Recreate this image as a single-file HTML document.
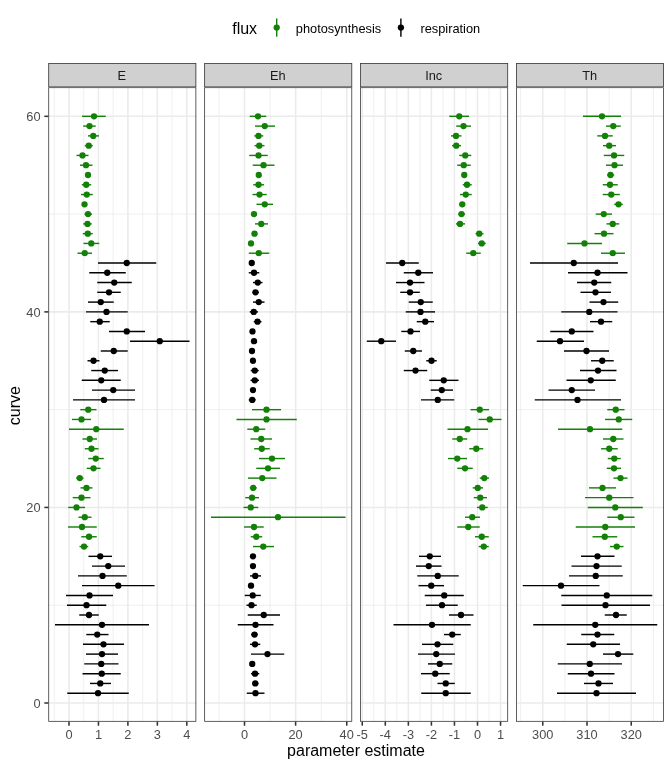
<!DOCTYPE html>
<html><head><meta charset="utf-8"><title>parameter estimates</title>
<style>html,body{margin:0;padding:0;background:#fff;}body{width:672px;height:768px;overflow:hidden;font-family:"Liberation Sans",sans-serif;}</style>
</head><body>
<svg width="672" height="768" viewBox="0 0 672 768" style="display:block;will-change:transform;transform:translateZ(0)" font-family="'Liberation Sans', sans-serif">
<g>
<line x1="48.33" x2="196.25" y1="605.22" y2="605.22" stroke="#EBEBEB" stroke-width="0.78"/>
<line x1="48.33" x2="196.25" y1="409.66" y2="409.66" stroke="#EBEBEB" stroke-width="0.78"/>
<line x1="48.33" x2="196.25" y1="214.10" y2="214.10" stroke="#EBEBEB" stroke-width="0.78"/>
<line y1="87.3" y2="721.7" x1="54.27" x2="54.27" stroke="#EBEBEB" stroke-width="0.78"/>
<line y1="87.3" y2="721.7" x1="83.72" x2="83.72" stroke="#EBEBEB" stroke-width="0.78"/>
<line y1="87.3" y2="721.7" x1="113.17" x2="113.17" stroke="#EBEBEB" stroke-width="0.78"/>
<line y1="87.3" y2="721.7" x1="142.62" x2="142.62" stroke="#EBEBEB" stroke-width="0.78"/>
<line y1="87.3" y2="721.7" x1="172.07" x2="172.07" stroke="#EBEBEB" stroke-width="0.78"/>
<line x1="48.33" x2="196.25" y1="703.00" y2="703.00" stroke="#EBEBEB" stroke-width="1.55"/>
<line x1="48.33" x2="196.25" y1="507.44" y2="507.44" stroke="#EBEBEB" stroke-width="1.55"/>
<line x1="48.33" x2="196.25" y1="311.88" y2="311.88" stroke="#EBEBEB" stroke-width="1.55"/>
<line x1="48.33" x2="196.25" y1="116.32" y2="116.32" stroke="#EBEBEB" stroke-width="1.55"/>
<line y1="87.3" y2="721.7" x1="69.00" x2="69.00" stroke="#EBEBEB" stroke-width="1.55"/>
<line y1="87.3" y2="721.7" x1="98.45" x2="98.45" stroke="#EBEBEB" stroke-width="1.55"/>
<line y1="87.3" y2="721.7" x1="127.90" x2="127.90" stroke="#EBEBEB" stroke-width="1.55"/>
<line y1="87.3" y2="721.7" x1="157.35" x2="157.35" stroke="#EBEBEB" stroke-width="1.55"/>
<line y1="87.3" y2="721.7" x1="186.80" x2="186.80" stroke="#EBEBEB" stroke-width="1.55"/>
<line x1="67.25" x2="128.75" y1="693.22" y2="693.22" stroke="#000000" stroke-width="1.42"/>
<circle cx="98.00" cy="693.22" r="3.15" fill="#000000"/>
<line x1="90.00" x2="111.00" y1="683.44" y2="683.44" stroke="#000000" stroke-width="1.42"/>
<circle cx="100.25" cy="683.44" r="3.15" fill="#000000"/>
<line x1="82.50" x2="120.75" y1="673.67" y2="673.67" stroke="#000000" stroke-width="1.42"/>
<circle cx="101.75" cy="673.67" r="3.15" fill="#000000"/>
<line x1="84.25" x2="118.50" y1="663.89" y2="663.89" stroke="#000000" stroke-width="1.42"/>
<circle cx="101.25" cy="663.89" r="3.15" fill="#000000"/>
<line x1="86.00" x2="118.00" y1="654.11" y2="654.11" stroke="#000000" stroke-width="1.42"/>
<circle cx="102.00" cy="654.11" r="3.15" fill="#000000"/>
<line x1="83.00" x2="124.00" y1="644.33" y2="644.33" stroke="#000000" stroke-width="1.42"/>
<circle cx="103.50" cy="644.33" r="3.15" fill="#000000"/>
<line x1="86.25" x2="108.50" y1="634.55" y2="634.55" stroke="#000000" stroke-width="1.42"/>
<circle cx="97.25" cy="634.55" r="3.15" fill="#000000"/>
<line x1="55.00" x2="149.00" y1="624.78" y2="624.78" stroke="#000000" stroke-width="1.42"/>
<circle cx="102.00" cy="624.78" r="3.15" fill="#000000"/>
<line x1="79.25" x2="98.75" y1="615.00" y2="615.00" stroke="#000000" stroke-width="1.42"/>
<circle cx="89.00" cy="615.00" r="3.15" fill="#000000"/>
<line x1="67.00" x2="106.25" y1="605.22" y2="605.22" stroke="#000000" stroke-width="1.42"/>
<circle cx="86.50" cy="605.22" r="3.15" fill="#000000"/>
<line x1="66.00" x2="113.00" y1="595.44" y2="595.44" stroke="#000000" stroke-width="1.42"/>
<circle cx="89.50" cy="595.44" r="3.15" fill="#000000"/>
<line x1="82.00" x2="154.50" y1="585.66" y2="585.66" stroke="#000000" stroke-width="1.42"/>
<circle cx="118.25" cy="585.66" r="3.15" fill="#000000"/>
<line x1="78.00" x2="126.75" y1="575.89" y2="575.89" stroke="#000000" stroke-width="1.42"/>
<circle cx="102.50" cy="575.89" r="3.15" fill="#000000"/>
<line x1="92.00" x2="125.00" y1="566.11" y2="566.11" stroke="#000000" stroke-width="1.42"/>
<circle cx="108.25" cy="566.11" r="3.15" fill="#000000"/>
<line x1="88.50" x2="112.00" y1="556.33" y2="556.33" stroke="#000000" stroke-width="1.42"/>
<circle cx="100.25" cy="556.33" r="3.15" fill="#000000"/>
<line x1="79.50" x2="88.25" y1="546.55" y2="546.55" stroke="#138007" stroke-width="1.42"/>
<circle cx="84.00" cy="546.55" r="3.15" fill="#138007"/>
<line x1="81.25" x2="96.75" y1="536.77" y2="536.77" stroke="#138007" stroke-width="1.42"/>
<circle cx="89.00" cy="536.77" r="3.15" fill="#138007"/>
<line x1="68.00" x2="96.75" y1="527.00" y2="527.00" stroke="#138007" stroke-width="1.42"/>
<circle cx="82.00" cy="527.00" r="3.15" fill="#138007"/>
<line x1="78.50" x2="91.50" y1="517.22" y2="517.22" stroke="#138007" stroke-width="1.42"/>
<circle cx="84.75" cy="517.22" r="3.15" fill="#138007"/>
<line x1="68.25" x2="85.00" y1="507.44" y2="507.44" stroke="#138007" stroke-width="1.42"/>
<circle cx="76.50" cy="507.44" r="3.15" fill="#138007"/>
<line x1="72.75" x2="90.50" y1="497.66" y2="497.66" stroke="#138007" stroke-width="1.42"/>
<circle cx="81.50" cy="497.66" r="3.15" fill="#138007"/>
<line x1="80.50" x2="92.50" y1="487.88" y2="487.88" stroke="#138007" stroke-width="1.42"/>
<circle cx="86.50" cy="487.88" r="3.15" fill="#138007"/>
<line x1="76.25" x2="83.50" y1="478.11" y2="478.11" stroke="#138007" stroke-width="1.42"/>
<circle cx="79.75" cy="478.11" r="3.15" fill="#138007"/>
<line x1="86.75" x2="100.50" y1="468.33" y2="468.33" stroke="#138007" stroke-width="1.42"/>
<circle cx="93.50" cy="468.33" r="3.15" fill="#138007"/>
<line x1="88.25" x2="103.75" y1="458.55" y2="458.55" stroke="#138007" stroke-width="1.42"/>
<circle cx="95.75" cy="458.55" r="3.15" fill="#138007"/>
<line x1="84.75" x2="98.50" y1="448.77" y2="448.77" stroke="#138007" stroke-width="1.42"/>
<circle cx="91.50" cy="448.77" r="3.15" fill="#138007"/>
<line x1="82.50" x2="97.00" y1="438.99" y2="438.99" stroke="#138007" stroke-width="1.42"/>
<circle cx="89.75" cy="438.99" r="3.15" fill="#138007"/>
<line x1="69.00" x2="123.75" y1="429.22" y2="429.22" stroke="#138007" stroke-width="1.42"/>
<circle cx="96.25" cy="429.22" r="3.15" fill="#138007"/>
<line x1="72.00" x2="91.00" y1="419.44" y2="419.44" stroke="#138007" stroke-width="1.42"/>
<circle cx="81.50" cy="419.44" r="3.15" fill="#138007"/>
<line x1="80.25" x2="96.50" y1="409.66" y2="409.66" stroke="#138007" stroke-width="1.42"/>
<circle cx="88.25" cy="409.66" r="3.15" fill="#138007"/>
<line x1="73.00" x2="135.00" y1="399.88" y2="399.88" stroke="#000000" stroke-width="1.42"/>
<circle cx="104.00" cy="399.88" r="3.15" fill="#000000"/>
<line x1="92.00" x2="135.00" y1="390.10" y2="390.10" stroke="#000000" stroke-width="1.42"/>
<circle cx="113.25" cy="390.10" r="3.15" fill="#000000"/>
<line x1="81.75" x2="120.75" y1="380.33" y2="380.33" stroke="#000000" stroke-width="1.42"/>
<circle cx="101.25" cy="380.33" r="3.15" fill="#000000"/>
<line x1="91.25" x2="118.00" y1="370.55" y2="370.55" stroke="#000000" stroke-width="1.42"/>
<circle cx="104.75" cy="370.55" r="3.15" fill="#000000"/>
<line x1="87.50" x2="99.50" y1="360.77" y2="360.77" stroke="#000000" stroke-width="1.42"/>
<circle cx="93.50" cy="360.77" r="3.15" fill="#000000"/>
<line x1="100.75" x2="127.75" y1="350.99" y2="350.99" stroke="#000000" stroke-width="1.42"/>
<circle cx="113.75" cy="350.99" r="3.15" fill="#000000"/>
<line x1="130.00" x2="189.50" y1="341.21" y2="341.21" stroke="#000000" stroke-width="1.42"/>
<circle cx="159.75" cy="341.21" r="3.15" fill="#000000"/>
<line x1="109.00" x2="145.00" y1="331.44" y2="331.44" stroke="#000000" stroke-width="1.42"/>
<circle cx="126.75" cy="331.44" r="3.15" fill="#000000"/>
<line x1="90.25" x2="109.75" y1="321.66" y2="321.66" stroke="#000000" stroke-width="1.42"/>
<circle cx="99.75" cy="321.66" r="3.15" fill="#000000"/>
<line x1="86.00" x2="127.75" y1="311.88" y2="311.88" stroke="#000000" stroke-width="1.42"/>
<circle cx="106.50" cy="311.88" r="3.15" fill="#000000"/>
<line x1="88.00" x2="113.75" y1="302.10" y2="302.10" stroke="#000000" stroke-width="1.42"/>
<circle cx="100.75" cy="302.10" r="3.15" fill="#000000"/>
<line x1="97.25" x2="120.75" y1="292.32" y2="292.32" stroke="#000000" stroke-width="1.42"/>
<circle cx="109.00" cy="292.32" r="3.15" fill="#000000"/>
<line x1="97.25" x2="131.75" y1="282.55" y2="282.55" stroke="#000000" stroke-width="1.42"/>
<circle cx="114.25" cy="282.55" r="3.15" fill="#000000"/>
<line x1="89.25" x2="125.75" y1="272.77" y2="272.77" stroke="#000000" stroke-width="1.42"/>
<circle cx="107.25" cy="272.77" r="3.15" fill="#000000"/>
<line x1="98.00" x2="156.25" y1="262.99" y2="262.99" stroke="#000000" stroke-width="1.42"/>
<circle cx="126.75" cy="262.99" r="3.15" fill="#000000"/>
<line x1="77.50" x2="92.00" y1="253.21" y2="253.21" stroke="#138007" stroke-width="1.42"/>
<circle cx="84.75" cy="253.21" r="3.15" fill="#138007"/>
<line x1="83.50" x2="99.25" y1="243.43" y2="243.43" stroke="#138007" stroke-width="1.42"/>
<circle cx="91.25" cy="243.43" r="3.15" fill="#138007"/>
<line x1="82.75" x2="92.75" y1="233.66" y2="233.66" stroke="#138007" stroke-width="1.42"/>
<circle cx="87.75" cy="233.66" r="3.15" fill="#138007"/>
<line x1="83.25" x2="91.75" y1="223.88" y2="223.88" stroke="#138007" stroke-width="1.42"/>
<circle cx="87.50" cy="223.88" r="3.15" fill="#138007"/>
<line x1="84.50" x2="92.00" y1="214.10" y2="214.10" stroke="#138007" stroke-width="1.42"/>
<circle cx="88.00" cy="214.10" r="3.15" fill="#138007"/>
<circle cx="84.50" cy="204.32" r="3.15" fill="#138007"/>
<line x1="81.00" x2="92.75" y1="194.54" y2="194.54" stroke="#138007" stroke-width="1.42"/>
<circle cx="86.75" cy="194.54" r="3.15" fill="#138007"/>
<line x1="81.75" x2="91.25" y1="184.77" y2="184.77" stroke="#138007" stroke-width="1.42"/>
<circle cx="86.25" cy="184.77" r="3.15" fill="#138007"/>
<line x1="85.25" x2="90.75" y1="174.99" y2="174.99" stroke="#138007" stroke-width="1.42"/>
<circle cx="88.00" cy="174.99" r="3.15" fill="#138007"/>
<line x1="80.00" x2="92.50" y1="165.21" y2="165.21" stroke="#138007" stroke-width="1.42"/>
<circle cx="86.00" cy="165.21" r="3.15" fill="#138007"/>
<line x1="76.50" x2="88.50" y1="155.43" y2="155.43" stroke="#138007" stroke-width="1.42"/>
<circle cx="82.50" cy="155.43" r="3.15" fill="#138007"/>
<line x1="84.75" x2="92.75" y1="145.65" y2="145.65" stroke="#138007" stroke-width="1.42"/>
<circle cx="88.75" cy="145.65" r="3.15" fill="#138007"/>
<line x1="88.00" x2="99.00" y1="135.88" y2="135.88" stroke="#138007" stroke-width="1.42"/>
<circle cx="93.25" cy="135.88" r="3.15" fill="#138007"/>
<line x1="83.25" x2="95.75" y1="126.10" y2="126.10" stroke="#138007" stroke-width="1.42"/>
<circle cx="89.50" cy="126.10" r="3.15" fill="#138007"/>
<line x1="82.00" x2="105.75" y1="116.32" y2="116.32" stroke="#138007" stroke-width="1.42"/>
<circle cx="94.00" cy="116.32" r="3.15" fill="#138007"/>
<rect x="48.72" y="87.69" width="147.14" height="633.63" fill="none" stroke="#333333" stroke-width="0.775"/>
<rect x="48.33" y="63.1" width="147.92" height="24.20" fill="#D0D0D0"/>
<rect x="48.72" y="63.49" width="147.14" height="23.42" fill="none" stroke="#333333" stroke-width="0.775"/>
<text x="121.89" y="79.80" font-size="12.8" fill="#1A1A1A" text-anchor="middle">E</text>
<line x1="69.00" x2="69.00" y1="721.7" y2="725.7" stroke="#333333" stroke-width="1.55"/>
<text x="69.00" y="739.0" font-size="12.8" fill="#4D4D4D" text-anchor="middle">0</text>
<line x1="98.45" x2="98.45" y1="721.7" y2="725.7" stroke="#333333" stroke-width="1.55"/>
<text x="98.45" y="739.0" font-size="12.8" fill="#4D4D4D" text-anchor="middle">1</text>
<line x1="127.90" x2="127.90" y1="721.7" y2="725.7" stroke="#333333" stroke-width="1.55"/>
<text x="127.90" y="739.0" font-size="12.8" fill="#4D4D4D" text-anchor="middle">2</text>
<line x1="157.35" x2="157.35" y1="721.7" y2="725.7" stroke="#333333" stroke-width="1.55"/>
<text x="157.35" y="739.0" font-size="12.8" fill="#4D4D4D" text-anchor="middle">3</text>
<line x1="186.80" x2="186.80" y1="721.7" y2="725.7" stroke="#333333" stroke-width="1.55"/>
<text x="186.80" y="739.0" font-size="12.8" fill="#4D4D4D" text-anchor="middle">4</text>
</g>
<g>
<line x1="204.25" x2="352.16999999999996" y1="605.22" y2="605.22" stroke="#EBEBEB" stroke-width="0.78"/>
<line x1="204.25" x2="352.16999999999996" y1="409.66" y2="409.66" stroke="#EBEBEB" stroke-width="0.78"/>
<line x1="204.25" x2="352.16999999999996" y1="214.10" y2="214.10" stroke="#EBEBEB" stroke-width="0.78"/>
<line y1="87.3" y2="721.7" x1="218.94" x2="218.94" stroke="#EBEBEB" stroke-width="0.78"/>
<line y1="87.3" y2="721.7" x1="270.06" x2="270.06" stroke="#EBEBEB" stroke-width="0.78"/>
<line y1="87.3" y2="721.7" x1="321.18" x2="321.18" stroke="#EBEBEB" stroke-width="0.78"/>
<line x1="204.25" x2="352.16999999999996" y1="703.00" y2="703.00" stroke="#EBEBEB" stroke-width="1.55"/>
<line x1="204.25" x2="352.16999999999996" y1="507.44" y2="507.44" stroke="#EBEBEB" stroke-width="1.55"/>
<line x1="204.25" x2="352.16999999999996" y1="311.88" y2="311.88" stroke="#EBEBEB" stroke-width="1.55"/>
<line x1="204.25" x2="352.16999999999996" y1="116.32" y2="116.32" stroke="#EBEBEB" stroke-width="1.55"/>
<line y1="87.3" y2="721.7" x1="244.50" x2="244.50" stroke="#EBEBEB" stroke-width="1.55"/>
<line y1="87.3" y2="721.7" x1="295.62" x2="295.62" stroke="#EBEBEB" stroke-width="1.55"/>
<line y1="87.3" y2="721.7" x1="346.74" x2="346.74" stroke="#EBEBEB" stroke-width="1.55"/>
<line x1="246.75" x2="264.50" y1="693.22" y2="693.22" stroke="#000000" stroke-width="1.42"/>
<circle cx="255.50" cy="693.22" r="3.15" fill="#000000"/>
<line x1="252.00" x2="258.50" y1="683.44" y2="683.44" stroke="#000000" stroke-width="1.42"/>
<circle cx="255.25" cy="683.44" r="3.15" fill="#000000"/>
<line x1="251.00" x2="259.25" y1="673.67" y2="673.67" stroke="#000000" stroke-width="1.42"/>
<circle cx="255.00" cy="673.67" r="3.15" fill="#000000"/>
<circle cx="252.25" cy="663.89" r="3.15" fill="#000000"/>
<line x1="251.00" x2="284.25" y1="654.11" y2="654.11" stroke="#000000" stroke-width="1.42"/>
<circle cx="267.50" cy="654.11" r="3.15" fill="#000000"/>
<line x1="250.00" x2="260.25" y1="644.33" y2="644.33" stroke="#000000" stroke-width="1.42"/>
<circle cx="255.00" cy="644.33" r="3.15" fill="#000000"/>
<line x1="251.00" x2="257.75" y1="634.55" y2="634.55" stroke="#000000" stroke-width="1.42"/>
<circle cx="254.50" cy="634.55" r="3.15" fill="#000000"/>
<line x1="237.75" x2="273.50" y1="624.78" y2="624.78" stroke="#000000" stroke-width="1.42"/>
<circle cx="255.50" cy="624.78" r="3.15" fill="#000000"/>
<line x1="247.75" x2="280.00" y1="615.00" y2="615.00" stroke="#000000" stroke-width="1.42"/>
<circle cx="263.75" cy="615.00" r="3.15" fill="#000000"/>
<line x1="246.50" x2="256.75" y1="605.22" y2="605.22" stroke="#000000" stroke-width="1.42"/>
<circle cx="251.50" cy="605.22" r="3.15" fill="#000000"/>
<line x1="244.75" x2="260.75" y1="595.44" y2="595.44" stroke="#000000" stroke-width="1.42"/>
<circle cx="252.75" cy="595.44" r="3.15" fill="#000000"/>
<circle cx="251.00" cy="585.66" r="3.15" fill="#000000"/>
<line x1="250.00" x2="261.00" y1="575.89" y2="575.89" stroke="#000000" stroke-width="1.42"/>
<circle cx="255.25" cy="575.89" r="3.15" fill="#000000"/>
<circle cx="253.00" cy="566.11" r="3.15" fill="#000000"/>
<circle cx="253.00" cy="556.33" r="3.15" fill="#000000"/>
<line x1="253.00" x2="274.00" y1="546.55" y2="546.55" stroke="#138007" stroke-width="1.42"/>
<circle cx="263.25" cy="546.55" r="3.15" fill="#138007"/>
<line x1="250.75" x2="262.25" y1="536.77" y2="536.77" stroke="#138007" stroke-width="1.42"/>
<circle cx="256.25" cy="536.77" r="3.15" fill="#138007"/>
<line x1="244.00" x2="263.75" y1="527.00" y2="527.00" stroke="#138007" stroke-width="1.42"/>
<circle cx="254.00" cy="527.00" r="3.15" fill="#138007"/>
<line x1="211.00" x2="345.50" y1="517.22" y2="517.22" stroke="#138007" stroke-width="1.42"/>
<circle cx="278.00" cy="517.22" r="3.15" fill="#138007"/>
<line x1="243.50" x2="258.25" y1="507.44" y2="507.44" stroke="#138007" stroke-width="1.42"/>
<circle cx="250.75" cy="507.44" r="3.15" fill="#138007"/>
<line x1="245.25" x2="259.00" y1="497.66" y2="497.66" stroke="#138007" stroke-width="1.42"/>
<circle cx="252.00" cy="497.66" r="3.15" fill="#138007"/>
<line x1="249.75" x2="256.75" y1="487.88" y2="487.88" stroke="#138007" stroke-width="1.42"/>
<circle cx="253.25" cy="487.88" r="3.15" fill="#138007"/>
<line x1="248.00" x2="276.50" y1="478.11" y2="478.11" stroke="#138007" stroke-width="1.42"/>
<circle cx="262.25" cy="478.11" r="3.15" fill="#138007"/>
<line x1="256.25" x2="280.00" y1="468.33" y2="468.33" stroke="#138007" stroke-width="1.42"/>
<circle cx="268.00" cy="468.33" r="3.15" fill="#138007"/>
<line x1="259.00" x2="285.00" y1="458.55" y2="458.55" stroke="#138007" stroke-width="1.42"/>
<circle cx="272.00" cy="458.55" r="3.15" fill="#138007"/>
<line x1="254.25" x2="269.75" y1="448.77" y2="448.77" stroke="#138007" stroke-width="1.42"/>
<circle cx="261.75" cy="448.77" r="3.15" fill="#138007"/>
<line x1="250.50" x2="272.00" y1="438.99" y2="438.99" stroke="#138007" stroke-width="1.42"/>
<circle cx="261.25" cy="438.99" r="3.15" fill="#138007"/>
<line x1="247.25" x2="265.25" y1="429.22" y2="429.22" stroke="#138007" stroke-width="1.42"/>
<circle cx="256.25" cy="429.22" r="3.15" fill="#138007"/>
<line x1="236.50" x2="296.75" y1="419.44" y2="419.44" stroke="#138007" stroke-width="1.42"/>
<circle cx="266.50" cy="419.44" r="3.15" fill="#138007"/>
<line x1="252.00" x2="281.00" y1="409.66" y2="409.66" stroke="#138007" stroke-width="1.42"/>
<circle cx="266.50" cy="409.66" r="3.15" fill="#138007"/>
<line x1="248.75" x2="255.75" y1="399.88" y2="399.88" stroke="#000000" stroke-width="1.42"/>
<circle cx="252.25" cy="399.88" r="3.15" fill="#000000"/>
<circle cx="253.00" cy="390.10" r="3.15" fill="#000000"/>
<line x1="250.50" x2="259.00" y1="380.33" y2="380.33" stroke="#000000" stroke-width="1.42"/>
<circle cx="254.75" cy="380.33" r="3.15" fill="#000000"/>
<line x1="250.75" x2="258.75" y1="370.55" y2="370.55" stroke="#000000" stroke-width="1.42"/>
<circle cx="254.75" cy="370.55" r="3.15" fill="#000000"/>
<circle cx="253.00" cy="360.77" r="3.15" fill="#000000"/>
<circle cx="252.00" cy="350.99" r="3.15" fill="#000000"/>
<circle cx="254.00" cy="341.21" r="3.15" fill="#000000"/>
<circle cx="252.50" cy="331.44" r="3.15" fill="#000000"/>
<line x1="253.75" x2="261.50" y1="321.66" y2="321.66" stroke="#000000" stroke-width="1.42"/>
<circle cx="257.50" cy="321.66" r="3.15" fill="#000000"/>
<line x1="249.75" x2="258.00" y1="311.88" y2="311.88" stroke="#000000" stroke-width="1.42"/>
<circle cx="253.75" cy="311.88" r="3.15" fill="#000000"/>
<line x1="253.00" x2="264.50" y1="302.10" y2="302.10" stroke="#000000" stroke-width="1.42"/>
<circle cx="258.75" cy="302.10" r="3.15" fill="#000000"/>
<line x1="252.50" x2="258.75" y1="292.32" y2="292.32" stroke="#000000" stroke-width="1.42"/>
<circle cx="255.50" cy="292.32" r="3.15" fill="#000000"/>
<line x1="253.00" x2="262.50" y1="282.55" y2="282.55" stroke="#000000" stroke-width="1.42"/>
<circle cx="257.75" cy="282.55" r="3.15" fill="#000000"/>
<line x1="248.75" x2="259.25" y1="272.77" y2="272.77" stroke="#000000" stroke-width="1.42"/>
<circle cx="254.00" cy="272.77" r="3.15" fill="#000000"/>
<circle cx="251.75" cy="262.99" r="3.15" fill="#000000"/>
<line x1="248.75" x2="269.25" y1="253.21" y2="253.21" stroke="#138007" stroke-width="1.42"/>
<circle cx="258.75" cy="253.21" r="3.15" fill="#138007"/>
<circle cx="251.00" cy="243.43" r="3.15" fill="#138007"/>
<line x1="251.75" x2="257.50" y1="233.66" y2="233.66" stroke="#138007" stroke-width="1.42"/>
<circle cx="254.50" cy="233.66" r="3.15" fill="#138007"/>
<line x1="255.00" x2="268.00" y1="223.88" y2="223.88" stroke="#138007" stroke-width="1.42"/>
<circle cx="261.25" cy="223.88" r="3.15" fill="#138007"/>
<circle cx="254.00" cy="214.10" r="3.15" fill="#138007"/>
<line x1="256.50" x2="273.00" y1="204.32" y2="204.32" stroke="#138007" stroke-width="1.42"/>
<circle cx="264.75" cy="204.32" r="3.15" fill="#138007"/>
<line x1="252.50" x2="266.75" y1="194.54" y2="194.54" stroke="#138007" stroke-width="1.42"/>
<circle cx="259.50" cy="194.54" r="3.15" fill="#138007"/>
<line x1="253.25" x2="264.00" y1="184.77" y2="184.77" stroke="#138007" stroke-width="1.42"/>
<circle cx="258.50" cy="184.77" r="3.15" fill="#138007"/>
<circle cx="258.75" cy="174.99" r="3.15" fill="#138007"/>
<line x1="252.75" x2="274.50" y1="165.21" y2="165.21" stroke="#138007" stroke-width="1.42"/>
<circle cx="263.50" cy="165.21" r="3.15" fill="#138007"/>
<line x1="249.25" x2="267.75" y1="155.43" y2="155.43" stroke="#138007" stroke-width="1.42"/>
<circle cx="258.50" cy="155.43" r="3.15" fill="#138007"/>
<line x1="254.50" x2="264.50" y1="145.65" y2="145.65" stroke="#138007" stroke-width="1.42"/>
<circle cx="259.25" cy="145.65" r="3.15" fill="#138007"/>
<line x1="254.25" x2="263.25" y1="135.88" y2="135.88" stroke="#138007" stroke-width="1.42"/>
<circle cx="258.50" cy="135.88" r="3.15" fill="#138007"/>
<line x1="255.00" x2="275.00" y1="126.10" y2="126.10" stroke="#138007" stroke-width="1.42"/>
<circle cx="264.75" cy="126.10" r="3.15" fill="#138007"/>
<line x1="249.75" x2="266.25" y1="116.32" y2="116.32" stroke="#138007" stroke-width="1.42"/>
<circle cx="258.00" cy="116.32" r="3.15" fill="#138007"/>
<rect x="204.64" y="87.69" width="147.14" height="633.63" fill="none" stroke="#333333" stroke-width="0.775"/>
<rect x="204.25" y="63.1" width="147.92" height="24.20" fill="#D0D0D0"/>
<rect x="204.64" y="63.49" width="147.14" height="23.42" fill="none" stroke="#333333" stroke-width="0.775"/>
<text x="277.81" y="79.80" font-size="12.8" fill="#1A1A1A" text-anchor="middle">Eh</text>
<line x1="244.50" x2="244.50" y1="721.7" y2="725.7" stroke="#333333" stroke-width="1.55"/>
<text x="244.50" y="739.0" font-size="12.8" fill="#4D4D4D" text-anchor="middle">0</text>
<line x1="295.62" x2="295.62" y1="721.7" y2="725.7" stroke="#333333" stroke-width="1.55"/>
<text x="295.62" y="739.0" font-size="12.8" fill="#4D4D4D" text-anchor="middle">20</text>
<line x1="346.74" x2="346.74" y1="721.7" y2="725.7" stroke="#333333" stroke-width="1.55"/>
<text x="346.74" y="739.0" font-size="12.8" fill="#4D4D4D" text-anchor="middle">40</text>
</g>
<g>
<line x1="360.17" x2="508.09000000000003" y1="605.22" y2="605.22" stroke="#EBEBEB" stroke-width="0.78"/>
<line x1="360.17" x2="508.09000000000003" y1="409.66" y2="409.66" stroke="#EBEBEB" stroke-width="0.78"/>
<line x1="360.17" x2="508.09000000000003" y1="214.10" y2="214.10" stroke="#EBEBEB" stroke-width="0.78"/>
<line y1="87.3" y2="721.7" x1="373.77" x2="373.77" stroke="#EBEBEB" stroke-width="0.78"/>
<line y1="87.3" y2="721.7" x1="396.82" x2="396.82" stroke="#EBEBEB" stroke-width="0.78"/>
<line y1="87.3" y2="721.7" x1="419.88" x2="419.88" stroke="#EBEBEB" stroke-width="0.78"/>
<line y1="87.3" y2="721.7" x1="442.93" x2="442.93" stroke="#EBEBEB" stroke-width="0.78"/>
<line y1="87.3" y2="721.7" x1="465.98" x2="465.98" stroke="#EBEBEB" stroke-width="0.78"/>
<line y1="87.3" y2="721.7" x1="489.02" x2="489.02" stroke="#EBEBEB" stroke-width="0.78"/>
<line x1="360.17" x2="508.09000000000003" y1="703.00" y2="703.00" stroke="#EBEBEB" stroke-width="1.55"/>
<line x1="360.17" x2="508.09000000000003" y1="507.44" y2="507.44" stroke="#EBEBEB" stroke-width="1.55"/>
<line x1="360.17" x2="508.09000000000003" y1="311.88" y2="311.88" stroke="#EBEBEB" stroke-width="1.55"/>
<line x1="360.17" x2="508.09000000000003" y1="116.32" y2="116.32" stroke="#EBEBEB" stroke-width="1.55"/>
<line y1="87.3" y2="721.7" x1="362.25" x2="362.25" stroke="#EBEBEB" stroke-width="1.55"/>
<line y1="87.3" y2="721.7" x1="385.30" x2="385.30" stroke="#EBEBEB" stroke-width="1.55"/>
<line y1="87.3" y2="721.7" x1="408.35" x2="408.35" stroke="#EBEBEB" stroke-width="1.55"/>
<line y1="87.3" y2="721.7" x1="431.40" x2="431.40" stroke="#EBEBEB" stroke-width="1.55"/>
<line y1="87.3" y2="721.7" x1="454.45" x2="454.45" stroke="#EBEBEB" stroke-width="1.55"/>
<line y1="87.3" y2="721.7" x1="477.50" x2="477.50" stroke="#EBEBEB" stroke-width="1.55"/>
<line y1="87.3" y2="721.7" x1="500.55" x2="500.55" stroke="#EBEBEB" stroke-width="1.55"/>
<line x1="421.25" x2="470.75" y1="693.22" y2="693.22" stroke="#000000" stroke-width="1.42"/>
<circle cx="445.75" cy="693.22" r="3.15" fill="#000000"/>
<line x1="437.50" x2="454.75" y1="683.44" y2="683.44" stroke="#000000" stroke-width="1.42"/>
<circle cx="445.75" cy="683.44" r="3.15" fill="#000000"/>
<line x1="421.00" x2="449.75" y1="673.67" y2="673.67" stroke="#000000" stroke-width="1.42"/>
<circle cx="435.25" cy="673.67" r="3.15" fill="#000000"/>
<line x1="428.00" x2="452.25" y1="663.89" y2="663.89" stroke="#000000" stroke-width="1.42"/>
<circle cx="439.75" cy="663.89" r="3.15" fill="#000000"/>
<line x1="418.00" x2="455.00" y1="654.11" y2="654.11" stroke="#000000" stroke-width="1.42"/>
<circle cx="436.25" cy="654.11" r="3.15" fill="#000000"/>
<line x1="422.00" x2="453.25" y1="644.33" y2="644.33" stroke="#000000" stroke-width="1.42"/>
<circle cx="437.50" cy="644.33" r="3.15" fill="#000000"/>
<line x1="444.00" x2="460.75" y1="634.55" y2="634.55" stroke="#000000" stroke-width="1.42"/>
<circle cx="452.25" cy="634.55" r="3.15" fill="#000000"/>
<line x1="393.50" x2="470.75" y1="624.78" y2="624.78" stroke="#000000" stroke-width="1.42"/>
<circle cx="432.00" cy="624.78" r="3.15" fill="#000000"/>
<line x1="449.00" x2="473.50" y1="615.00" y2="615.00" stroke="#000000" stroke-width="1.42"/>
<circle cx="461.00" cy="615.00" r="3.15" fill="#000000"/>
<line x1="426.00" x2="457.75" y1="605.22" y2="605.22" stroke="#000000" stroke-width="1.42"/>
<circle cx="442.00" cy="605.22" r="3.15" fill="#000000"/>
<line x1="424.75" x2="463.75" y1="595.44" y2="595.44" stroke="#000000" stroke-width="1.42"/>
<circle cx="444.25" cy="595.44" r="3.15" fill="#000000"/>
<line x1="418.50" x2="444.00" y1="585.66" y2="585.66" stroke="#000000" stroke-width="1.42"/>
<circle cx="431.25" cy="585.66" r="3.15" fill="#000000"/>
<line x1="417.25" x2="458.75" y1="575.89" y2="575.89" stroke="#000000" stroke-width="1.42"/>
<circle cx="437.75" cy="575.89" r="3.15" fill="#000000"/>
<line x1="416.00" x2="441.50" y1="566.11" y2="566.11" stroke="#000000" stroke-width="1.42"/>
<circle cx="428.75" cy="566.11" r="3.15" fill="#000000"/>
<line x1="419.00" x2="441.00" y1="556.33" y2="556.33" stroke="#000000" stroke-width="1.42"/>
<circle cx="429.75" cy="556.33" r="3.15" fill="#000000"/>
<line x1="478.75" x2="488.75" y1="546.55" y2="546.55" stroke="#138007" stroke-width="1.42"/>
<circle cx="483.75" cy="546.55" r="3.15" fill="#138007"/>
<line x1="475.00" x2="488.75" y1="536.77" y2="536.77" stroke="#138007" stroke-width="1.42"/>
<circle cx="481.75" cy="536.77" r="3.15" fill="#138007"/>
<line x1="457.25" x2="479.75" y1="527.00" y2="527.00" stroke="#138007" stroke-width="1.42"/>
<circle cx="468.25" cy="527.00" r="3.15" fill="#138007"/>
<line x1="465.00" x2="480.00" y1="517.22" y2="517.22" stroke="#138007" stroke-width="1.42"/>
<circle cx="472.25" cy="517.22" r="3.15" fill="#138007"/>
<line x1="477.00" x2="487.75" y1="507.44" y2="507.44" stroke="#138007" stroke-width="1.42"/>
<circle cx="482.25" cy="507.44" r="3.15" fill="#138007"/>
<line x1="473.75" x2="487.00" y1="497.66" y2="497.66" stroke="#138007" stroke-width="1.42"/>
<circle cx="480.25" cy="497.66" r="3.15" fill="#138007"/>
<line x1="472.75" x2="483.00" y1="487.88" y2="487.88" stroke="#138007" stroke-width="1.42"/>
<circle cx="477.75" cy="487.88" r="3.15" fill="#138007"/>
<line x1="479.75" x2="489.00" y1="478.11" y2="478.11" stroke="#138007" stroke-width="1.42"/>
<circle cx="484.25" cy="478.11" r="3.15" fill="#138007"/>
<line x1="457.25" x2="472.75" y1="468.33" y2="468.33" stroke="#138007" stroke-width="1.42"/>
<circle cx="465.00" cy="468.33" r="3.15" fill="#138007"/>
<line x1="448.00" x2="467.00" y1="458.55" y2="458.55" stroke="#138007" stroke-width="1.42"/>
<circle cx="457.25" cy="458.55" r="3.15" fill="#138007"/>
<line x1="469.25" x2="483.25" y1="448.77" y2="448.77" stroke="#138007" stroke-width="1.42"/>
<circle cx="476.25" cy="448.77" r="3.15" fill="#138007"/>
<line x1="452.25" x2="467.25" y1="438.99" y2="438.99" stroke="#138007" stroke-width="1.42"/>
<circle cx="459.75" cy="438.99" r="3.15" fill="#138007"/>
<line x1="447.50" x2="488.00" y1="429.22" y2="429.22" stroke="#138007" stroke-width="1.42"/>
<circle cx="467.50" cy="429.22" r="3.15" fill="#138007"/>
<line x1="478.50" x2="501.50" y1="419.44" y2="419.44" stroke="#138007" stroke-width="1.42"/>
<circle cx="489.75" cy="419.44" r="3.15" fill="#138007"/>
<line x1="470.50" x2="489.00" y1="409.66" y2="409.66" stroke="#138007" stroke-width="1.42"/>
<circle cx="479.75" cy="409.66" r="3.15" fill="#138007"/>
<line x1="421.00" x2="454.25" y1="399.88" y2="399.88" stroke="#000000" stroke-width="1.42"/>
<circle cx="437.75" cy="399.88" r="3.15" fill="#000000"/>
<line x1="430.75" x2="453.00" y1="390.10" y2="390.10" stroke="#000000" stroke-width="1.42"/>
<circle cx="441.75" cy="390.10" r="3.15" fill="#000000"/>
<line x1="429.25" x2="458.50" y1="380.33" y2="380.33" stroke="#000000" stroke-width="1.42"/>
<circle cx="443.75" cy="380.33" r="3.15" fill="#000000"/>
<line x1="403.75" x2="427.25" y1="370.55" y2="370.55" stroke="#000000" stroke-width="1.42"/>
<circle cx="415.50" cy="370.55" r="3.15" fill="#000000"/>
<line x1="426.25" x2="436.75" y1="360.77" y2="360.77" stroke="#000000" stroke-width="1.42"/>
<circle cx="431.50" cy="360.77" r="3.15" fill="#000000"/>
<line x1="404.75" x2="422.00" y1="350.99" y2="350.99" stroke="#000000" stroke-width="1.42"/>
<circle cx="413.25" cy="350.99" r="3.15" fill="#000000"/>
<line x1="366.75" x2="396.00" y1="341.21" y2="341.21" stroke="#000000" stroke-width="1.42"/>
<circle cx="381.25" cy="341.21" r="3.15" fill="#000000"/>
<line x1="401.25" x2="420.00" y1="331.44" y2="331.44" stroke="#000000" stroke-width="1.42"/>
<circle cx="410.50" cy="331.44" r="3.15" fill="#000000"/>
<line x1="416.75" x2="434.00" y1="321.66" y2="321.66" stroke="#000000" stroke-width="1.42"/>
<circle cx="425.25" cy="321.66" r="3.15" fill="#000000"/>
<line x1="405.75" x2="435.00" y1="311.88" y2="311.88" stroke="#000000" stroke-width="1.42"/>
<circle cx="420.50" cy="311.88" r="3.15" fill="#000000"/>
<line x1="408.75" x2="432.75" y1="302.10" y2="302.10" stroke="#000000" stroke-width="1.42"/>
<circle cx="420.75" cy="302.10" r="3.15" fill="#000000"/>
<line x1="400.25" x2="419.75" y1="292.32" y2="292.32" stroke="#000000" stroke-width="1.42"/>
<circle cx="410.00" cy="292.32" r="3.15" fill="#000000"/>
<line x1="396.00" x2="424.50" y1="282.55" y2="282.55" stroke="#000000" stroke-width="1.42"/>
<circle cx="410.00" cy="282.55" r="3.15" fill="#000000"/>
<line x1="403.75" x2="433.00" y1="272.77" y2="272.77" stroke="#000000" stroke-width="1.42"/>
<circle cx="418.25" cy="272.77" r="3.15" fill="#000000"/>
<line x1="386.00" x2="418.75" y1="262.99" y2="262.99" stroke="#000000" stroke-width="1.42"/>
<circle cx="402.25" cy="262.99" r="3.15" fill="#000000"/>
<line x1="466.25" x2="480.75" y1="253.21" y2="253.21" stroke="#138007" stroke-width="1.42"/>
<circle cx="473.25" cy="253.21" r="3.15" fill="#138007"/>
<line x1="478.00" x2="485.75" y1="243.43" y2="243.43" stroke="#138007" stroke-width="1.42"/>
<circle cx="481.75" cy="243.43" r="3.15" fill="#138007"/>
<line x1="475.50" x2="483.50" y1="233.66" y2="233.66" stroke="#138007" stroke-width="1.42"/>
<circle cx="479.25" cy="233.66" r="3.15" fill="#138007"/>
<line x1="456.00" x2="465.00" y1="223.88" y2="223.88" stroke="#138007" stroke-width="1.42"/>
<circle cx="460.00" cy="223.88" r="3.15" fill="#138007"/>
<line x1="458.25" x2="465.00" y1="214.10" y2="214.10" stroke="#138007" stroke-width="1.42"/>
<circle cx="461.50" cy="214.10" r="3.15" fill="#138007"/>
<circle cx="462.25" cy="204.32" r="3.15" fill="#138007"/>
<line x1="460.00" x2="471.75" y1="194.54" y2="194.54" stroke="#138007" stroke-width="1.42"/>
<circle cx="465.75" cy="194.54" r="3.15" fill="#138007"/>
<line x1="462.75" x2="471.75" y1="184.77" y2="184.77" stroke="#138007" stroke-width="1.42"/>
<circle cx="467.00" cy="184.77" r="3.15" fill="#138007"/>
<circle cx="464.25" cy="174.99" r="3.15" fill="#138007"/>
<line x1="457.25" x2="470.75" y1="165.21" y2="165.21" stroke="#138007" stroke-width="1.42"/>
<circle cx="463.75" cy="165.21" r="3.15" fill="#138007"/>
<line x1="459.25" x2="471.25" y1="155.43" y2="155.43" stroke="#138007" stroke-width="1.42"/>
<circle cx="465.25" cy="155.43" r="3.15" fill="#138007"/>
<line x1="452.00" x2="461.00" y1="145.65" y2="145.65" stroke="#138007" stroke-width="1.42"/>
<circle cx="456.25" cy="145.65" r="3.15" fill="#138007"/>
<line x1="451.00" x2="461.50" y1="135.88" y2="135.88" stroke="#138007" stroke-width="1.42"/>
<circle cx="456.00" cy="135.88" r="3.15" fill="#138007"/>
<line x1="456.25" x2="471.00" y1="126.10" y2="126.10" stroke="#138007" stroke-width="1.42"/>
<circle cx="463.50" cy="126.10" r="3.15" fill="#138007"/>
<line x1="449.25" x2="469.00" y1="116.32" y2="116.32" stroke="#138007" stroke-width="1.42"/>
<circle cx="459.25" cy="116.32" r="3.15" fill="#138007"/>
<rect x="360.56" y="87.69" width="147.14" height="633.63" fill="none" stroke="#333333" stroke-width="0.775"/>
<rect x="360.17" y="63.1" width="147.92" height="24.20" fill="#D0D0D0"/>
<rect x="360.56" y="63.49" width="147.14" height="23.42" fill="none" stroke="#333333" stroke-width="0.775"/>
<text x="433.73" y="79.80" font-size="12.8" fill="#1A1A1A" text-anchor="middle">Inc</text>
<line x1="362.25" x2="362.25" y1="721.7" y2="725.7" stroke="#333333" stroke-width="1.55"/>
<text x="362.25" y="739.0" font-size="12.8" fill="#4D4D4D" text-anchor="middle">-5</text>
<line x1="385.30" x2="385.30" y1="721.7" y2="725.7" stroke="#333333" stroke-width="1.55"/>
<text x="385.30" y="739.0" font-size="12.8" fill="#4D4D4D" text-anchor="middle">-4</text>
<line x1="408.35" x2="408.35" y1="721.7" y2="725.7" stroke="#333333" stroke-width="1.55"/>
<text x="408.35" y="739.0" font-size="12.8" fill="#4D4D4D" text-anchor="middle">-3</text>
<line x1="431.40" x2="431.40" y1="721.7" y2="725.7" stroke="#333333" stroke-width="1.55"/>
<text x="431.40" y="739.0" font-size="12.8" fill="#4D4D4D" text-anchor="middle">-2</text>
<line x1="454.45" x2="454.45" y1="721.7" y2="725.7" stroke="#333333" stroke-width="1.55"/>
<text x="454.45" y="739.0" font-size="12.8" fill="#4D4D4D" text-anchor="middle">-1</text>
<line x1="477.50" x2="477.50" y1="721.7" y2="725.7" stroke="#333333" stroke-width="1.55"/>
<text x="477.50" y="739.0" font-size="12.8" fill="#4D4D4D" text-anchor="middle">0</text>
<line x1="500.55" x2="500.55" y1="721.7" y2="725.7" stroke="#333333" stroke-width="1.55"/>
<text x="500.55" y="739.0" font-size="12.8" fill="#4D4D4D" text-anchor="middle">1</text>
</g>
<g>
<line x1="516.08" x2="664.0" y1="605.22" y2="605.22" stroke="#EBEBEB" stroke-width="0.78"/>
<line x1="516.08" x2="664.0" y1="409.66" y2="409.66" stroke="#EBEBEB" stroke-width="0.78"/>
<line x1="516.08" x2="664.0" y1="214.10" y2="214.10" stroke="#EBEBEB" stroke-width="0.78"/>
<line y1="87.3" y2="721.7" x1="520.62" x2="520.62" stroke="#EBEBEB" stroke-width="0.78"/>
<line y1="87.3" y2="721.7" x1="564.88" x2="564.88" stroke="#EBEBEB" stroke-width="0.78"/>
<line y1="87.3" y2="721.7" x1="609.12" x2="609.12" stroke="#EBEBEB" stroke-width="0.78"/>
<line y1="87.3" y2="721.7" x1="653.38" x2="653.38" stroke="#EBEBEB" stroke-width="0.78"/>
<line x1="516.08" x2="664.0" y1="703.00" y2="703.00" stroke="#EBEBEB" stroke-width="1.55"/>
<line x1="516.08" x2="664.0" y1="507.44" y2="507.44" stroke="#EBEBEB" stroke-width="1.55"/>
<line x1="516.08" x2="664.0" y1="311.88" y2="311.88" stroke="#EBEBEB" stroke-width="1.55"/>
<line x1="516.08" x2="664.0" y1="116.32" y2="116.32" stroke="#EBEBEB" stroke-width="1.55"/>
<line y1="87.3" y2="721.7" x1="542.75" x2="542.75" stroke="#EBEBEB" stroke-width="1.55"/>
<line y1="87.3" y2="721.7" x1="587.00" x2="587.00" stroke="#EBEBEB" stroke-width="1.55"/>
<line y1="87.3" y2="721.7" x1="631.25" x2="631.25" stroke="#EBEBEB" stroke-width="1.55"/>
<line x1="557.00" x2="636.00" y1="693.22" y2="693.22" stroke="#000000" stroke-width="1.42"/>
<circle cx="596.50" cy="693.22" r="3.15" fill="#000000"/>
<line x1="584.00" x2="613.00" y1="683.44" y2="683.44" stroke="#000000" stroke-width="1.42"/>
<circle cx="598.50" cy="683.44" r="3.15" fill="#000000"/>
<line x1="567.75" x2="614.50" y1="673.67" y2="673.67" stroke="#000000" stroke-width="1.42"/>
<circle cx="591.00" cy="673.67" r="3.15" fill="#000000"/>
<line x1="557.75" x2="622.00" y1="663.89" y2="663.89" stroke="#000000" stroke-width="1.42"/>
<circle cx="589.75" cy="663.89" r="3.15" fill="#000000"/>
<line x1="603.00" x2="633.25" y1="654.11" y2="654.11" stroke="#000000" stroke-width="1.42"/>
<circle cx="618.00" cy="654.11" r="3.15" fill="#000000"/>
<line x1="566.75" x2="620.00" y1="644.33" y2="644.33" stroke="#000000" stroke-width="1.42"/>
<circle cx="593.25" cy="644.33" r="3.15" fill="#000000"/>
<line x1="581.25" x2="614.25" y1="634.55" y2="634.55" stroke="#000000" stroke-width="1.42"/>
<circle cx="597.50" cy="634.55" r="3.15" fill="#000000"/>
<line x1="533.25" x2="657.25" y1="624.78" y2="624.78" stroke="#000000" stroke-width="1.42"/>
<circle cx="595.25" cy="624.78" r="3.15" fill="#000000"/>
<line x1="604.75" x2="626.75" y1="615.00" y2="615.00" stroke="#000000" stroke-width="1.42"/>
<circle cx="616.00" cy="615.00" r="3.15" fill="#000000"/>
<line x1="561.50" x2="650.00" y1="605.22" y2="605.22" stroke="#000000" stroke-width="1.42"/>
<circle cx="605.50" cy="605.22" r="3.15" fill="#000000"/>
<line x1="561.25" x2="652.25" y1="595.44" y2="595.44" stroke="#000000" stroke-width="1.42"/>
<circle cx="606.75" cy="595.44" r="3.15" fill="#000000"/>
<line x1="522.75" x2="599.50" y1="585.66" y2="585.66" stroke="#000000" stroke-width="1.42"/>
<circle cx="561.00" cy="585.66" r="3.15" fill="#000000"/>
<line x1="569.00" x2="622.75" y1="575.89" y2="575.89" stroke="#000000" stroke-width="1.42"/>
<circle cx="595.75" cy="575.89" r="3.15" fill="#000000"/>
<line x1="571.50" x2="621.75" y1="566.11" y2="566.11" stroke="#000000" stroke-width="1.42"/>
<circle cx="596.50" cy="566.11" r="3.15" fill="#000000"/>
<line x1="581.00" x2="614.50" y1="556.33" y2="556.33" stroke="#000000" stroke-width="1.42"/>
<circle cx="597.50" cy="556.33" r="3.15" fill="#000000"/>
<line x1="610.00" x2="623.50" y1="546.55" y2="546.55" stroke="#138007" stroke-width="1.42"/>
<circle cx="616.75" cy="546.55" r="3.15" fill="#138007"/>
<line x1="592.50" x2="617.25" y1="536.77" y2="536.77" stroke="#138007" stroke-width="1.42"/>
<circle cx="604.75" cy="536.77" r="3.15" fill="#138007"/>
<line x1="575.75" x2="635.00" y1="527.00" y2="527.00" stroke="#138007" stroke-width="1.42"/>
<circle cx="605.25" cy="527.00" r="3.15" fill="#138007"/>
<line x1="607.25" x2="634.50" y1="517.22" y2="517.22" stroke="#138007" stroke-width="1.42"/>
<circle cx="620.75" cy="517.22" r="3.15" fill="#138007"/>
<line x1="587.75" x2="642.75" y1="507.44" y2="507.44" stroke="#138007" stroke-width="1.42"/>
<circle cx="615.25" cy="507.44" r="3.15" fill="#138007"/>
<line x1="585.00" x2="633.50" y1="497.66" y2="497.66" stroke="#138007" stroke-width="1.42"/>
<circle cx="609.25" cy="497.66" r="3.15" fill="#138007"/>
<line x1="589.00" x2="616.00" y1="487.88" y2="487.88" stroke="#138007" stroke-width="1.42"/>
<circle cx="602.50" cy="487.88" r="3.15" fill="#138007"/>
<line x1="613.50" x2="627.50" y1="478.11" y2="478.11" stroke="#138007" stroke-width="1.42"/>
<circle cx="620.50" cy="478.11" r="3.15" fill="#138007"/>
<line x1="606.75" x2="621.00" y1="468.33" y2="468.33" stroke="#138007" stroke-width="1.42"/>
<circle cx="614.00" cy="468.33" r="3.15" fill="#138007"/>
<line x1="607.75" x2="620.75" y1="458.55" y2="458.55" stroke="#138007" stroke-width="1.42"/>
<circle cx="614.25" cy="458.55" r="3.15" fill="#138007"/>
<line x1="601.00" x2="617.75" y1="448.77" y2="448.77" stroke="#138007" stroke-width="1.42"/>
<circle cx="609.25" cy="448.77" r="3.15" fill="#138007"/>
<line x1="603.00" x2="623.50" y1="438.99" y2="438.99" stroke="#138007" stroke-width="1.42"/>
<circle cx="613.25" cy="438.99" r="3.15" fill="#138007"/>
<line x1="558.00" x2="622.25" y1="429.22" y2="429.22" stroke="#138007" stroke-width="1.42"/>
<circle cx="590.00" cy="429.22" r="3.15" fill="#138007"/>
<line x1="605.00" x2="632.25" y1="419.44" y2="419.44" stroke="#138007" stroke-width="1.42"/>
<circle cx="618.75" cy="419.44" r="3.15" fill="#138007"/>
<line x1="607.25" x2="624.50" y1="409.66" y2="409.66" stroke="#138007" stroke-width="1.42"/>
<circle cx="615.75" cy="409.66" r="3.15" fill="#138007"/>
<line x1="534.75" x2="621.00" y1="399.88" y2="399.88" stroke="#000000" stroke-width="1.42"/>
<circle cx="577.50" cy="399.88" r="3.15" fill="#000000"/>
<line x1="548.50" x2="595.00" y1="390.10" y2="390.10" stroke="#000000" stroke-width="1.42"/>
<circle cx="571.75" cy="390.10" r="3.15" fill="#000000"/>
<line x1="566.50" x2="615.75" y1="380.33" y2="380.33" stroke="#000000" stroke-width="1.42"/>
<circle cx="590.75" cy="380.33" r="3.15" fill="#000000"/>
<line x1="580.00" x2="616.50" y1="370.55" y2="370.55" stroke="#000000" stroke-width="1.42"/>
<circle cx="598.00" cy="370.55" r="3.15" fill="#000000"/>
<line x1="591.00" x2="613.75" y1="360.77" y2="360.77" stroke="#000000" stroke-width="1.42"/>
<circle cx="602.25" cy="360.77" r="3.15" fill="#000000"/>
<line x1="564.00" x2="609.00" y1="350.99" y2="350.99" stroke="#000000" stroke-width="1.42"/>
<circle cx="586.50" cy="350.99" r="3.15" fill="#000000"/>
<line x1="536.75" x2="584.00" y1="341.21" y2="341.21" stroke="#000000" stroke-width="1.42"/>
<circle cx="560.00" cy="341.21" r="3.15" fill="#000000"/>
<line x1="550.25" x2="593.50" y1="331.44" y2="331.44" stroke="#000000" stroke-width="1.42"/>
<circle cx="571.75" cy="331.44" r="3.15" fill="#000000"/>
<line x1="590.00" x2="612.25" y1="321.66" y2="321.66" stroke="#000000" stroke-width="1.42"/>
<circle cx="601.00" cy="321.66" r="3.15" fill="#000000"/>
<line x1="561.25" x2="617.50" y1="311.88" y2="311.88" stroke="#000000" stroke-width="1.42"/>
<circle cx="589.25" cy="311.88" r="3.15" fill="#000000"/>
<line x1="589.50" x2="618.25" y1="302.10" y2="302.10" stroke="#000000" stroke-width="1.42"/>
<circle cx="603.50" cy="302.10" r="3.15" fill="#000000"/>
<line x1="580.50" x2="611.00" y1="292.32" y2="292.32" stroke="#000000" stroke-width="1.42"/>
<circle cx="595.50" cy="292.32" r="3.15" fill="#000000"/>
<line x1="577.00" x2="611.25" y1="282.55" y2="282.55" stroke="#000000" stroke-width="1.42"/>
<circle cx="594.25" cy="282.55" r="3.15" fill="#000000"/>
<line x1="568.00" x2="627.50" y1="272.77" y2="272.77" stroke="#000000" stroke-width="1.42"/>
<circle cx="597.50" cy="272.77" r="3.15" fill="#000000"/>
<line x1="530.00" x2="618.00" y1="262.99" y2="262.99" stroke="#000000" stroke-width="1.42"/>
<circle cx="573.75" cy="262.99" r="3.15" fill="#000000"/>
<line x1="601.00" x2="625.00" y1="253.21" y2="253.21" stroke="#138007" stroke-width="1.42"/>
<circle cx="612.75" cy="253.21" r="3.15" fill="#138007"/>
<line x1="567.25" x2="602.00" y1="243.43" y2="243.43" stroke="#138007" stroke-width="1.42"/>
<circle cx="584.50" cy="243.43" r="3.15" fill="#138007"/>
<line x1="594.50" x2="613.50" y1="233.66" y2="233.66" stroke="#138007" stroke-width="1.42"/>
<circle cx="604.00" cy="233.66" r="3.15" fill="#138007"/>
<line x1="606.50" x2="619.25" y1="223.88" y2="223.88" stroke="#138007" stroke-width="1.42"/>
<circle cx="612.75" cy="223.88" r="3.15" fill="#138007"/>
<line x1="595.75" x2="612.00" y1="214.10" y2="214.10" stroke="#138007" stroke-width="1.42"/>
<circle cx="603.75" cy="214.10" r="3.15" fill="#138007"/>
<line x1="614.25" x2="622.75" y1="204.32" y2="204.32" stroke="#138007" stroke-width="1.42"/>
<circle cx="618.50" cy="204.32" r="3.15" fill="#138007"/>
<line x1="602.75" x2="619.75" y1="194.54" y2="194.54" stroke="#138007" stroke-width="1.42"/>
<circle cx="611.25" cy="194.54" r="3.15" fill="#138007"/>
<line x1="602.75" x2="617.75" y1="184.77" y2="184.77" stroke="#138007" stroke-width="1.42"/>
<circle cx="610.00" cy="184.77" r="3.15" fill="#138007"/>
<line x1="607.00" x2="614.25" y1="174.99" y2="174.99" stroke="#138007" stroke-width="1.42"/>
<circle cx="610.50" cy="174.99" r="3.15" fill="#138007"/>
<line x1="606.00" x2="623.00" y1="165.21" y2="165.21" stroke="#138007" stroke-width="1.42"/>
<circle cx="614.50" cy="165.21" r="3.15" fill="#138007"/>
<line x1="603.75" x2="624.25" y1="155.43" y2="155.43" stroke="#138007" stroke-width="1.42"/>
<circle cx="614.00" cy="155.43" r="3.15" fill="#138007"/>
<line x1="603.00" x2="616.00" y1="145.65" y2="145.65" stroke="#138007" stroke-width="1.42"/>
<circle cx="609.25" cy="145.65" r="3.15" fill="#138007"/>
<line x1="597.25" x2="612.75" y1="135.88" y2="135.88" stroke="#138007" stroke-width="1.42"/>
<circle cx="605.00" cy="135.88" r="3.15" fill="#138007"/>
<line x1="606.00" x2="620.75" y1="126.10" y2="126.10" stroke="#138007" stroke-width="1.42"/>
<circle cx="613.25" cy="126.10" r="3.15" fill="#138007"/>
<line x1="583.00" x2="621.00" y1="116.32" y2="116.32" stroke="#138007" stroke-width="1.42"/>
<circle cx="602.00" cy="116.32" r="3.15" fill="#138007"/>
<rect x="516.47" y="87.69" width="147.14" height="633.63" fill="none" stroke="#333333" stroke-width="0.775"/>
<rect x="516.08" y="63.1" width="147.92" height="24.20" fill="#D0D0D0"/>
<rect x="516.47" y="63.49" width="147.14" height="23.42" fill="none" stroke="#333333" stroke-width="0.775"/>
<text x="589.64" y="79.80" font-size="12.8" fill="#1A1A1A" text-anchor="middle">Th</text>
<line x1="542.75" x2="542.75" y1="721.7" y2="725.7" stroke="#333333" stroke-width="1.55"/>
<text x="542.75" y="739.0" font-size="12.8" fill="#4D4D4D" text-anchor="middle">300</text>
<line x1="587.00" x2="587.00" y1="721.7" y2="725.7" stroke="#333333" stroke-width="1.55"/>
<text x="587.00" y="739.0" font-size="12.8" fill="#4D4D4D" text-anchor="middle">310</text>
<line x1="631.25" x2="631.25" y1="721.7" y2="725.7" stroke="#333333" stroke-width="1.55"/>
<text x="631.25" y="739.0" font-size="12.8" fill="#4D4D4D" text-anchor="middle">320</text>
</g>
<line x1="44.33" x2="48.33" y1="703.00" y2="703.00" stroke="#333333" stroke-width="1.55"/>
<text x="40.6" y="708.00" font-size="12.8" fill="#4D4D4D" text-anchor="end">0</text>
<line x1="44.33" x2="48.33" y1="507.44" y2="507.44" stroke="#333333" stroke-width="1.55"/>
<text x="40.6" y="512.44" font-size="12.8" fill="#4D4D4D" text-anchor="end">20</text>
<line x1="44.33" x2="48.33" y1="311.88" y2="311.88" stroke="#333333" stroke-width="1.55"/>
<text x="40.6" y="316.88" font-size="12.8" fill="#4D4D4D" text-anchor="end">40</text>
<line x1="44.33" x2="48.33" y1="116.32" y2="116.32" stroke="#333333" stroke-width="1.55"/>
<text x="40.6" y="121.32" font-size="12.8" fill="#4D4D4D" text-anchor="end">60</text>
<text x="356" y="756.3" font-size="16" fill="#000" text-anchor="middle">parameter estimate</text>
<text transform="translate(19.75,405.7) rotate(-90)" font-size="16" fill="#000" text-anchor="middle">curve</text>
<text x="232.2" y="33.8" font-size="16" fill="#000">flux</text>
<line x1="276.7" x2="276.7" y1="18.4" y2="36.7" stroke="#138007" stroke-width="1.42"/><circle cx="276.7" cy="27.55" r="3.15" fill="#138007"/>
<text x="295.8" y="32.7" font-size="12.8" fill="#000">photosynthesis</text>
<line x1="400.9" x2="400.9" y1="18.4" y2="36.7" stroke="#000000" stroke-width="1.42"/><circle cx="400.9" cy="27.55" r="3.15" fill="#000000"/>
<text x="420.4" y="32.7" font-size="12.8" fill="#000">respiration</text>
</svg>
</body></html>
